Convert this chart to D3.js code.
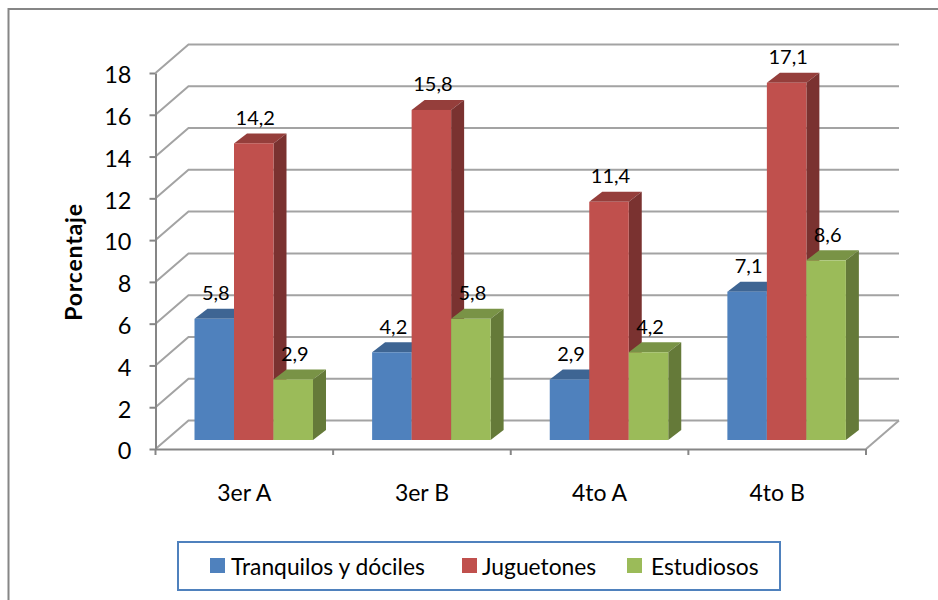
<!DOCTYPE html>
<html>
<head>
<meta charset="utf-8">
<script src="https://cdn.jsdelivr.net/npm/d3@7"></script>
<style>
  html, body { margin: 0; padding: 0; background: #fff; }
  svg { display: block; }
  text { font-family: Lato, "Open Sans", sans-serif; fill: #000; }
</style>
</head>
<body>
<div id="chart"></div>
<script>
const categories = ["3er A", "3er B", "4to A", "4to B"];
const seriesNames = ["Tranquilos y dóciles", "Juguetones", "Estudiosos"];
const tranquilos = [5.8, 4.2, 2.9, 7.1];
const juguetones = [14.2, 15.8, 11.4, 17.1];
const estudiosos = [2.9, 5.8, 4.2, 8.6];
const yTicks = [0, 2, 4, 6, 8, 10, 12, 14, 16, 18];

const seriesValues = [tranquilos, juguetones, estudiosos];
const frontColors = ["#4f81bd", "#c0504d", "#9bbb59"];
const topColors = ["#3e6593", "#953e3b", "#799346"];
const sideColors = ["#335378", "#7a3230", "#657a39"];

const chartWidth = 938, chartHeight = 600;
const plotLeft = 155.5, plotRight = 866, plotBottom = 449, plotTop = 73;

// 3D offsets: back wall, plane the bars stand on, depth of one bar
const wall = { dx: 33, dy: -28.5 };
const plane = { dx: 9.5, dy: -9 };
const depth = { dx: 13, dy: -10 };

const svg = d3.select("#chart").append("svg")
  .attr("width", chartWidth)
  .attr("height", chartHeight);

const y = d3.scaleLinear().domain([0, 18]).range([plotBottom, plotTop]);
const x = d3.scaleBand().domain(categories).range([plotLeft, plotRight]);
const xInner = d3.scaleBand()
  .domain(d3.range(seriesNames.length))
  .range([29.5, 148]);

const decimalComma = d3.formatLocale({
  decimal: ",", thousands: ".", grouping: [3], currency: ["", ""]
}).format(".1f");

// Outer frame, only top and left edges show in the picture
svg.append("path")
  .attr("d", `M8.5,${chartHeight} V9 H${chartWidth}`)
  .attr("fill", "none")
  .attr("stroke", "#868686")
  .attr("stroke-width", 2);

// Slightly soft marks, the reference is an upscaled picture
const gMarks = svg.append("g").style("filter", "blur(0.45px)");

// Walls and floor gridlines
gMarks.append("g").selectAll("path")
  .data(yTicks)
  .join("path")
  .attr("d", d => `M${plotLeft},${y(d)} L${plotLeft + wall.dx},${y(d) + wall.dy} H${plotRight + wall.dx}`)
  .attr("fill", "none")
  .attr("stroke", "#a3a3a3")
  .attr("stroke-width", 2);

// Right edge of the floor
gMarks.append("path")
  .attr("d", `M${plotRight},${y(0)} L${plotRight + wall.dx},${y(0) + wall.dy}`)
  .attr("fill", "none")
  .attr("stroke", "#a3a3a3")
  .attr("stroke-width", 2);

// Axes
const yAxis = d3.axisLeft(y).tickValues(yTicks).tickSize(6).tickPadding(18).tickSizeOuter(0);
const gY = svg.append("g").attr("transform", `translate(${plotLeft},0)`).call(yAxis);
gY.selectAll("text")
  .attr("font-size", 23.5)
  .attr("font-family", null)
  .attr("dy", "0.42em");

const xAxis = d3.axisBottom(x).tickSize(0).tickPadding(36);
const gX = svg.append("g").attr("transform", `translate(0,${plotBottom})`).call(xAxis);
gX.selectAll("text").attr("font-size", 23).attr("font-family", null);

const edges = categories.map(c => x(c)).concat(plotRight);
gX.selectAll("line.edge")
  .data(edges)
  .join("line")
  .attr("class", "edge")
  .attr("x1", d => d).attr("x2", d => d)
  .attr("y1", 0).attr("y2", 6);

svg.selectAll(".domain, .tick line, line.edge")
  .attr("stroke", "#868686")
  .attr("stroke-width", 2)
  .style("filter", "blur(0.3px)");

// Bars, left to right so each front face covers its neighbour's side
const gBars = gMarks.append("g")
  .attr("transform", `translate(${plane.dx},${plane.dy})`);

categories.forEach((cat, ci) => {
  seriesValues.forEach((vals, si) => {
    const x0 = x(cat) + xInner(si);
    const x1 = x0 + xInner.bandwidth();
    const yTop = y(vals[ci]);
    const g = gBars.append("g");
    g.append("path")
      .attr("d", `M${x0},${yTop} l${depth.dx},${depth.dy} H${x1 + depth.dx} L${x1},${yTop} Z`)
      .attr("fill", topColors[si]);
    g.append("path")
      .attr("d", `M${x1},${yTop} l${depth.dx},${depth.dy} V${y(0) + depth.dy} L${x1},${y(0)} Z`)
      .attr("fill", sideColors[si]);
    g.append("rect")
      .attr("x", x0)
      .attr("y", yTop)
      .attr("width", xInner.bandwidth())
      .attr("height", y(0) - yTop)
      .attr("fill", frontColors[si]);
  });
});

// Data labels
categories.forEach((cat, ci) => {
  seriesValues.forEach((vals, si) => {
    svg.append("text")
      .attr("x", x(cat) + xInner(si) + xInner.bandwidth() / 2 + plane.dx + 1.5)
      .attr("y", y(vals[ci]) + plane.dy - 18.5)
      .attr("text-anchor", "middle")
      .attr("font-size", 20)
      .text(decimalComma(vals[ci]));
  });
});

// Y axis title
svg.append("text")
  .attr("transform", "translate(82,262) rotate(-90)")
  .attr("text-anchor", "middle")
  .attr("font-size", 23)
  .attr("font-weight", 700)
  .attr("letter-spacing", 0.8)
  .text("Porcentaje");

// Legend
svg.append("rect")
  .attr("x", 178).attr("y", 542)
  .attr("width", 602).attr("height", 48)
  .attr("fill", "#fff")
  .attr("stroke", "#4f81bd")
  .attr("stroke-width", 2);

const legendSwatchX = [210, 462, 627];
const legendTextX = [231, 482, 651];
const gLegend = svg.append("g");
seriesNames.forEach((name, i) => {
  gLegend.append("rect")
    .attr("x", legendSwatchX[i]).attr("y", 558)
    .attr("width", 15).attr("height", 15)
    .attr("fill", frontColors[i]);
  gLegend.append("text")
    .attr("x", legendTextX[i]).attr("y", 575)
    .attr("font-size", 22.8)
    .text(name);
});
</script>
</body>
</html>
